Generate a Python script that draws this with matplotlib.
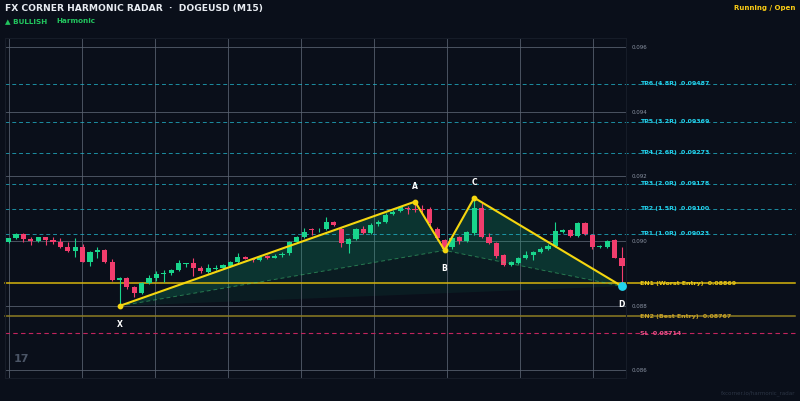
import matplotlib
matplotlib.use('Agg')
import matplotlib.pyplot as plt
import numpy as np

# velas M15 DOGEUSD
opens = [0.08996, 0.09010, 0.09022, 0.09006, 0.09001, 0.09011, 0.09003, 0.08997, 0.08980, 0.08969,
         0.08982, 0.08935, 0.08966, 0.08972, 0.08934, 0.08879, 0.08887, 0.08858, 0.08840, 0.08871,
         0.08885, 0.08897, 0.08900, 0.08910, 0.08929, 0.08931, 0.08916, 0.08905, 0.08914, 0.08916,
         0.08923, 0.08935, 0.08950, 0.08945, 0.08941, 0.08954, 0.08949, 0.08958, 0.08962, 0.08997,
         0.09013, 0.09036, 0.09033, 0.09037, 0.09058, 0.09038, 0.08991, 0.09006, 0.09036, 0.09026,
         0.09052, 0.09060, 0.09083, 0.09094, 0.09101, 0.09099, 0.09100, 0.09099, 0.09038, 0.09003,
         0.08980, 0.09013, 0.09000, 0.09024, 0.09101, 0.09013, 0.08993, 0.08956, 0.08926, 0.08933,
         0.08947, 0.08958, 0.08965, 0.08974, 0.08985, 0.09029, 0.09034, 0.09016, 0.09055, 0.09019,
         0.08980, 0.08982, 0.09003, 0.08949]
highs = [0.09010, 0.09026, 0.09025, 0.09014, 0.09014, 0.09014, 0.09014, 0.09008, 0.08998, 0.09008,
         0.08991, 0.08970, 0.08981, 0.08975, 0.08944, 0.08890, 0.08890, 0.08860, 0.08873, 0.08895,
         0.08907, 0.08910, 0.08914, 0.08940, 0.08933, 0.08946, 0.08922, 0.08928, 0.08926, 0.08930,
         0.08938, 0.08962, 0.08954, 0.08948, 0.08956, 0.08958, 0.08960, 0.08965, 0.09000, 0.09015,
         0.09040, 0.09040, 0.09040, 0.09075, 0.09063, 0.09042, 0.09010, 0.09040, 0.09045, 0.09055,
         0.09064, 0.09086, 0.09095, 0.09108, 0.09108, 0.09122, 0.09110, 0.09105, 0.09042, 0.09007,
         0.09012, 0.09017, 0.09031, 0.09134, 0.09120, 0.09024, 0.08998, 0.08960, 0.08938, 0.08950,
         0.08970, 0.08970, 0.08980, 0.08990, 0.09060, 0.09038, 0.09038, 0.09058, 0.09059, 0.09022,
         0.08988, 0.09004, 0.09006, 0.08981]
lows = [0.08993, 0.09007, 0.08998, 0.08988, 0.08996, 0.08989, 0.08991, 0.08978, 0.08967, 0.08951,
        0.08934, 0.08924, 0.08948, 0.08932, 0.08877, 0.08799, 0.08851, 0.08826, 0.08836, 0.08868,
        0.08875, 0.08874, 0.08895, 0.08906, 0.08920, 0.08892, 0.08902, 0.08900, 0.08911, 0.08912,
        0.08920, 0.08932, 0.08943, 0.08936, 0.08937, 0.08944, 0.08946, 0.08950, 0.08958, 0.08994,
        0.09010, 0.09020, 0.09028, 0.09033, 0.09045, 0.08980, 0.08964, 0.09003, 0.09022, 0.09022,
        0.09048, 0.09057, 0.09080, 0.09090, 0.09085, 0.09090, 0.09085, 0.09050, 0.09002, 0.08971,
        0.08976, 0.08990, 0.08997, 0.09020, 0.09008, 0.08990, 0.08948, 0.08922, 0.08922, 0.08930,
        0.08944, 0.08940, 0.08962, 0.08971, 0.08982, 0.09025, 0.09012, 0.09012, 0.09018, 0.08976,
        0.08977, 0.08978, 0.08947, 0.08860]
closes = [0.09008, 0.09022, 0.09005, 0.09001, 0.09011, 0.09003, 0.08996, 0.08980, 0.08970, 0.08982,
          0.08936, 0.08967, 0.08973, 0.08934, 0.08879, 0.08886, 0.08858, 0.08840, 0.08871, 0.08886,
          0.08898, 0.08901, 0.08910, 0.08931, 0.08931, 0.08915, 0.08906, 0.08916, 0.08918, 0.08925,
          0.08934, 0.08950, 0.08945, 0.08941, 0.08951, 0.08949, 0.08955, 0.08960, 0.08997, 0.09011,
          0.09027, 0.09033, 0.09035, 0.09058, 0.09050, 0.08993, 0.09006, 0.09037, 0.09026, 0.09050,
          0.09060, 0.09081, 0.09091, 0.09104, 0.09098, 0.09097, 0.09097, 0.09055, 0.09008, 0.08975,
          0.09008, 0.09001, 0.09027, 0.09101, 0.09013, 0.08993, 0.08953, 0.08926, 0.08934, 0.08947,
          0.08957, 0.08966, 0.08976, 0.08985, 0.09031, 0.09034, 0.09016, 0.09055, 0.09021, 0.08980,
          0.08985, 0.09001, 0.08949, 0.08923]

# patron XABCD
puntos = ['X', 'A', 'B', 'C', 'D']
puntos_idx = [15, 55, 59, 63, 83]
puntos_precio = [0.08799, 0.09122, 0.08971, 0.09134, 0.08860]

# niveles
tp_nombres = ['TP6 (4.8R)', 'TP5 (3.2R)', 'TP4 (2.6R)', 'TP3 (2.0R)', 'TP2 (1.5R)', 'TP1 (1.0R)']
tp_valores = [0.09487, 0.09369, 0.09273, 0.09178, 0.09100, 0.09023]
en1 = 0.08869
en2 = 0.08767
sl = 0.08714

y_ticks = [0.086, 0.088, 0.090, 0.092, 0.094, 0.096]

BG = '#0a0f1a'
VERDE = '#19d58c'
ROJO = '#f23d6d'

fig = plt.figure(figsize=(8, 4.01), dpi=100, facecolor=BG)
ax = fig.add_axes([5 / 800, 1 - 378 / 401, 621 / 800, 340 / 401])
ax.set_facecolor(BG)

# velas
for i in range(len(opens)):
    o, h, l, c = opens[i], highs[i], lows[i], closes[i]
    col = VERDE if c >= o else ROJO
    ax.vlines(i, l, h, color=col, lw=0.8, zorder=3)
    ax.bar(i, max(abs(c - o), 0.000012), bottom=min(o, c), width=0.7, color=col, lw=0, zorder=4)

# rellenos del patron
xs = puntos_idx
ps = puntos_precio
ax.fill([xs[0], xs[2], xs[4]], [ps[0], ps[2], ps[4]], color='#10b981', alpha=0.08, lw=0, zorder=1)
ax.fill([xs[0], xs[1], xs[2]], [ps[0], ps[1], ps[2]], color='#10b981', alpha=0.22, lw=0, zorder=2)
ax.fill([xs[2], xs[3], xs[4]], [ps[2], ps[3], ps[4]], color='#10b981', alpha=0.22, lw=0, zorder=2)
ax.plot([xs[0], xs[2], xs[4]], [ps[0], ps[2], ps[4]], color='#4ade80', alpha=0.45, lw=0.7,
        ls=(0, (4, 3)), zorder=5)
ax.plot(xs, ps, color='#f5d60f', lw=1.5, zorder=6)
ax.scatter(xs[:4], ps[:4], s=10, color='#f5d60f', zorder=7)
ax.scatter([xs[4]], [ps[4]], s=28, color='#22d3ee', zorder=7)

offs = [(0, -13), (0, 11), (0, -13), (0, 11), (0, -13)]
for n, x, p, off in zip(puntos, xs, ps, offs):
    ax.annotate(n, (x, p), xytext=off, textcoords='offset points', ha='center', va='center',
                color='white', fontsize=5.5, fontweight='bold', zorder=8, annotation_clip=False)

# lineas de niveles (se extienden fuera del eje)
tr = ax.get_yaxis_transform()
x_fin = (795 - 5) / 621
x_txt = (640 - 5) / 621
for nombre, v in zip(tp_nombres, tp_valores):
    ax.plot([0, x_fin], [v, v], transform=tr, color='#22b8cf', lw=0.7, ls=(0, (4, 3)),
            alpha=0.75, clip_on=False, zorder=2)
    ax.text(x_txt, v, f'{nombre}  {v:.5f}', transform=tr, color='#22d3ee', fontsize=4.5,
            fontweight='bold', va='center', ha='left')

ax.plot([0, x_fin], [en1, en1], transform=tr, color='#d6b40c', lw=1.1, clip_on=False, zorder=2)
ax.text(x_txt, en1, f'EN1 (Worst Entry)  {en1:.5f}', transform=tr, color='#ecc918',
        fontsize=4.5, fontweight='bold', va='center', ha='left')
ax.plot([0, x_fin], [en2, en2], transform=tr, color='#8f7d22', lw=1.1, clip_on=False, zorder=2)
ax.text(x_txt, en2, f'EN2 (Best Entry)  {en2:.5f}', transform=tr, color='#c9a328',
        fontsize=4.5, fontweight='bold', va='center', ha='left')
ax.plot([0, x_fin], [sl, sl], transform=tr, color='#c2245e', lw=0.8, ls=(0, (4, 3)),
        clip_on=False, zorder=2)
ax.text(x_txt, sl, f'SL  {sl:.5f}', transform=tr, color='#f0508a',
        fontsize=4.5, fontweight='bold', va='center', ha='left')

# ejes y rejilla
ax.set_xlim(-0.5, 83.55)
ax.set_ylim(0.08576, 0.096285)
ax.set_xticks(np.linspace(0.08, 79.03, 9))
ax.set_xticklabels([])
ax.set_yticks(y_ticks)
ax.set_yticklabels([f'{t:.3f}' for t in y_ticks])
ax.yaxis.tick_right()
ax.tick_params(axis='y', length=0, pad=4, labelsize=4, labelcolor='#8a93a3')
ax.tick_params(axis='x', length=0)
ax.grid(True, color='#5b6472', lw=0.7, alpha=0.8, zorder=0)
for s in ax.spines.values():
    s.set_color('#161c28')
    s.set_linewidth(0.8)

# textos
fig.text(5 / 800, 1 - 9 / 401, 'FX CORNER HARMONIC RADAR  \u00b7  DOGEUSD (M15)', color='#e8ecf2',
         fontsize=6.6, fontweight='bold', va='center', ha='left')
fig.text(5 / 800, 1 - 21 / 401, '\u25b2 BULLISH', color='#22c55e', fontsize=5.2,
         fontweight='bold', va='center', ha='left')
fig.text(56 / 800, 1 - 21 / 401, 'Harmonic', color='#22c55e', fontsize=5.2,
         fontweight='bold', va='center', ha='left')
fig.text(795 / 800, 1 - 8 / 401, 'Running / Open', color='#facc15', fontsize=5,
         fontweight='bold', va='center', ha='right')
fig.text(14 / 800, 1 - 359 / 401, '17', color='#4b5566', fontsize=8,
         fontweight='bold', va='center', ha='left')
fig.text(795 / 800, 1 - 393 / 401, 'fxcorner.io/harmonic_radar', color='#2b3444', fontsize=4,
         va='center', ha='right')

plt.savefig('out.png', dpi=100, facecolor=BG)
